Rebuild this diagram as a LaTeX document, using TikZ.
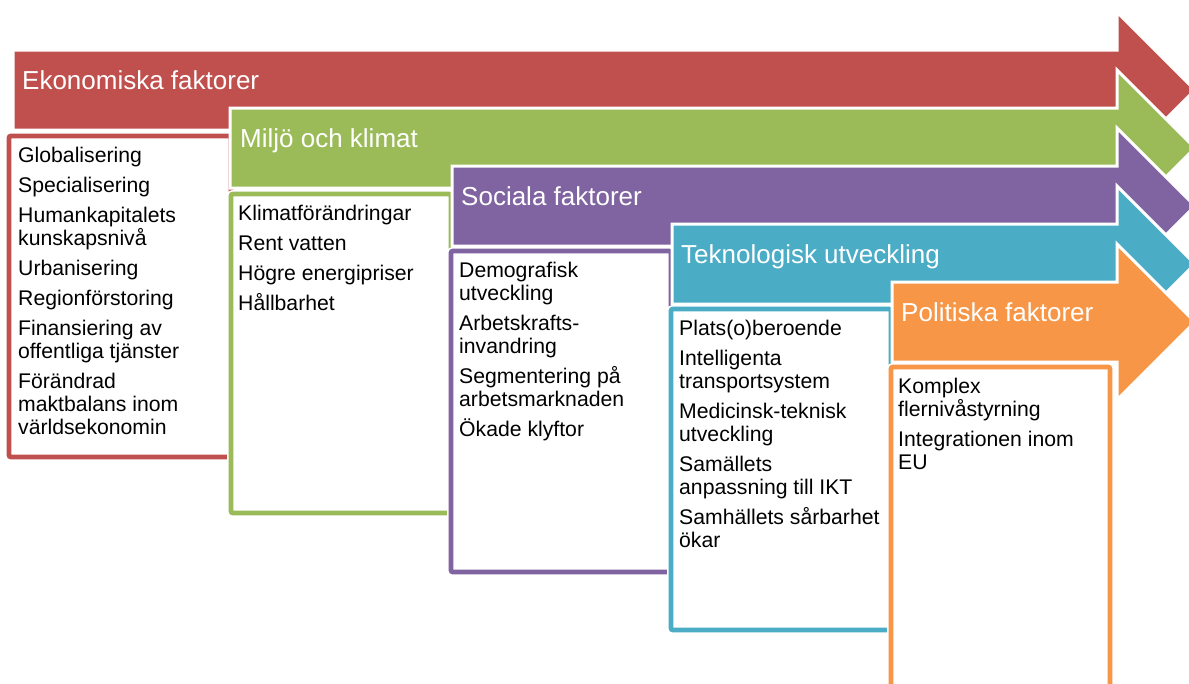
\documentclass[tikz,border=0pt]{standalone}
\usepackage{fontspec}
\setmainfont{Liberation Sans}
\definecolor{cred}{HTML}{C0504D}
\definecolor{cgreen}{HTML}{9BBB59}
\definecolor{cpurple}{HTML}{8064A2}
\definecolor{cteal}{HTML}{4BACC6}
\definecolor{corange}{HTML}{F79646}
\newcommand\factorarrow[3]{% x0, center y, colour
  \draw[arrowshape=#3] ({#1},{#2-40}) -- (1117,{#2-40}) -- (1117,{#2-78}) -- (1195,{#2}) -- (1117,{#2+78}) -- (1117,{#2+40}) -- ({#1},{#2+40}) -- cycle;}
\tikzset{
  arrowshape/.style={fill=#1, draw=white, line width=3pt, line join=miter},
  boxshape/.style={draw=#1, line width=4.8pt, fill=white, rounded corners=2pt,
    preaction={draw=white, line width=8pt}},
  title/.style={text=white, font=\fontsize{26}{30}\selectfont, anchor=base west, inner sep=0pt},
  items/.style={text=black, font=\fontsize{21.2}{23}\selectfont, align=left, anchor=north west, inner sep=0pt},
}
\begin{document}
\begin{tikzpicture}[x=1pt,y=-1pt]
\useasboundingbox (0,0) rectangle (1189,683);
\clip (0,0) rectangle (1189,683);
% red
\factorarrow{13}{90}{cred}
\node[title] (t1) at (22,89) {Ekonomiska faktorer};
\draw[boxshape=cred] (9,136) rectangle (231,457);
\node[items] (i1) at (18,146.5) {Globalisering\\[7pt]Specialisering\\[7pt]Humankapitalets\\kunskapsnivå\\[7pt]Urbanisering\\[7pt]Regionförstoring\\[7pt]Finansiering av\\offentliga tjänster\\[7pt]Förändrad\\maktbalans inom\\världsekonomin};
% green
\factorarrow{230}{148}{cgreen}
\node[title] (t2) at (240,147) {Miljö och klimat};
\draw[boxshape=cgreen] (231,194) rectangle (451,513);
\node[items] (i2) at (238,204.5) {Klimatförändringar\\[7pt]Rent vatten\\[7pt]Högre energipriser\\[7pt]Hållbarhet};
% purple
\factorarrow{452}{206}{cpurple}
\node[title] (t3) at (461,205) {Sociala faktorer};
\draw[boxshape=cpurple] (451,251) rectangle (671,572);
\node[items] (i3) at (459,261.5) {Demografisk\\utveckling\\[7pt]Arbetskrafts-\\invandring\\[7pt]Segmentering på\\arbetsmarknaden\\[7pt]Ökade klyftor};
% teal
\factorarrow{672}{264}{cteal}
\node[title] (t4) at (681,263) {Teknologisk utveckling};
\draw[boxshape=cteal] (671,309) rectangle (891,630);
\node[items] (i4) at (679,319.5) {Plats(o)beroende\\[7pt]Intelligenta\\transportsystem\\[7pt]Medicinsk-teknisk\\utveckling\\[7pt]Samällets\\anpassning till IKT\\[7pt]Samhällets sårbarhet\\ökar};
% orange
\factorarrow{892}{322}{corange}
\node[title] (t5) at (901,321) {Politiska faktorer};
\draw[boxshape=corange] (891,367) rectangle (1110,695);
\node[items] (i5) at (898,377.5) {Komplex\\flernivåstyrning\\[7pt]Integrationen inom\\EU};
\end{tikzpicture}
\end{document}
